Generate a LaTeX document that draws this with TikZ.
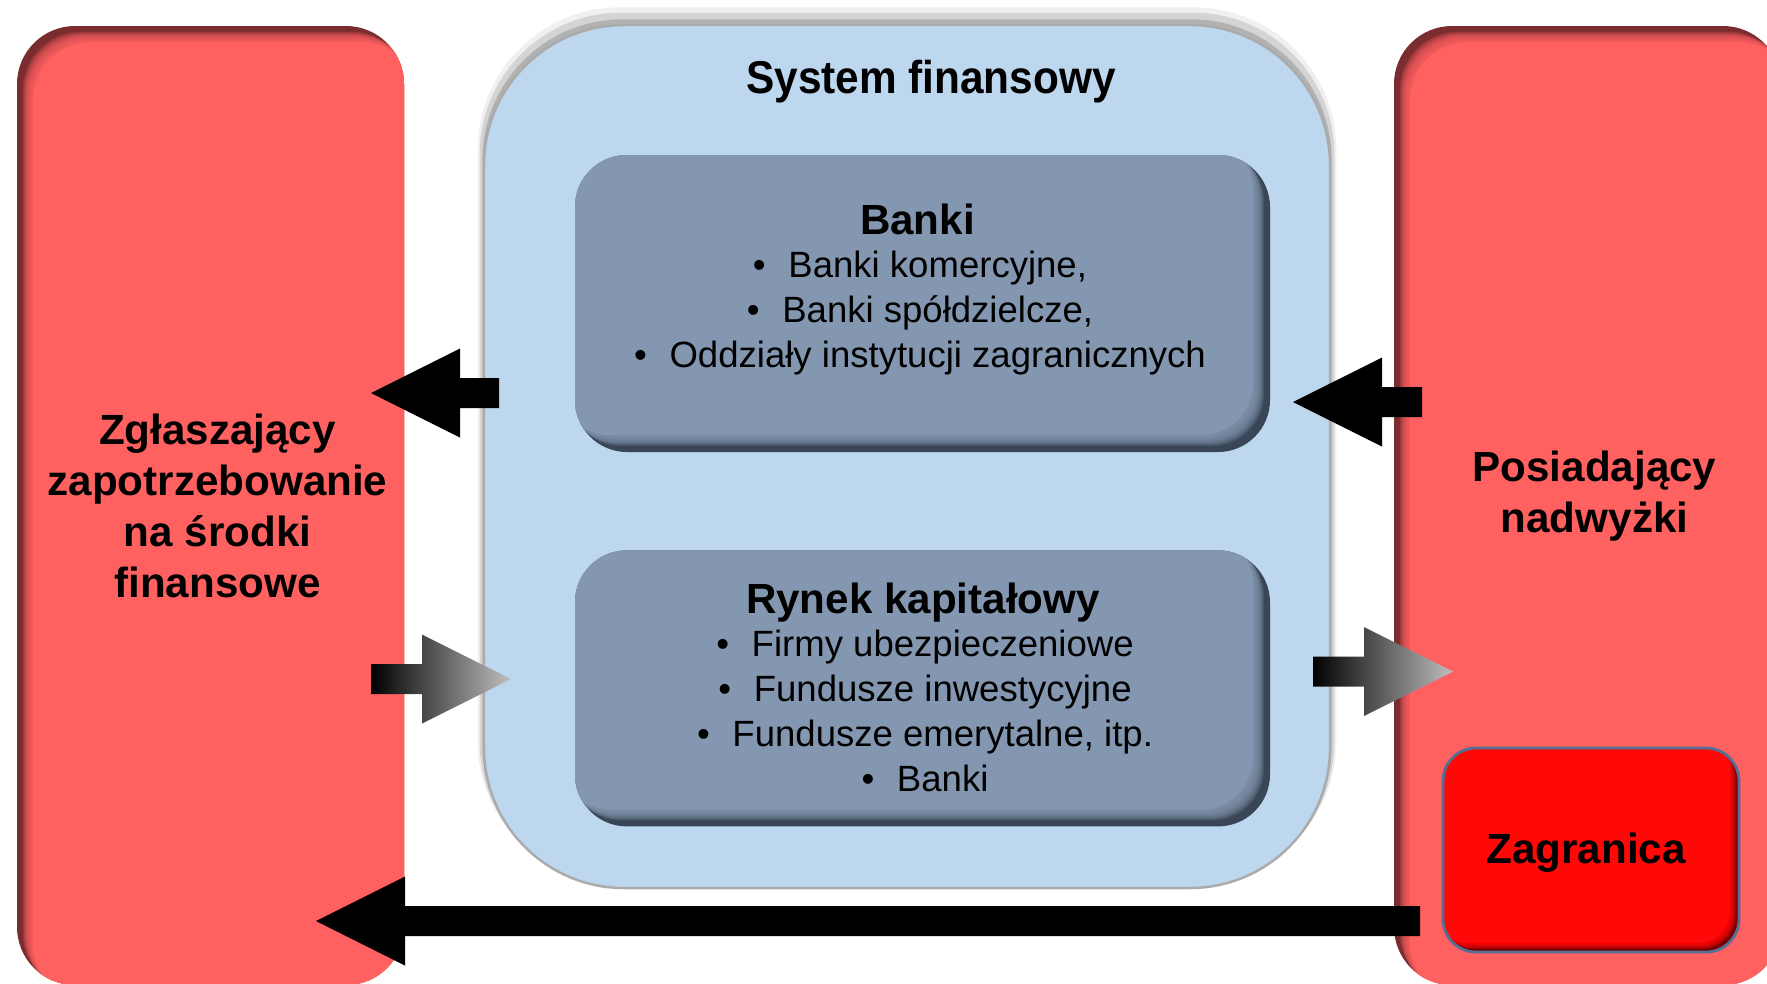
\documentclass[tikz,border=0pt]{standalone}
\usepackage{fontspec}
\setmainfont{Liberation Sans}
\usepackage{graphicx}
\usepackage{tikz}
\usetikzlibrary{positioning, calc, shadows}

\definecolor{boxred}{RGB}{255,97,97}
\definecolor{boxredshade}{RGB}{122,44,46}
\definecolor{sysblue}{RGB}{189,215,238}
\definecolor{slate}{RGB}{132,151,176}
\definecolor{slateshade}{RGB}{58,70,88}
\definecolor{zagred}{RGB}{255,8,8}
\definecolor{zagshade}{RGB}{118,0,0}
\definecolor{zagline}{RGB}{84,110,148}

% inner shadow: copies of the box moved by (#2,#3) times the depth #5
\newcommand{\innershade}[5]{%
  \foreach \f in {0.35,0.4,...,0.95}
    \fill[#1, opacity=0.17, rounded corners=#4]
      ([shift={(#2*\f*#5,#3*\f*#5)}]path picture bounding box.south west) rectangle
      ([shift={(#2*\f*#5,#3*\f*#5)}]path picture bounding box.north east);
  \fill[#1, rounded corners=#4]
      ([shift={(#2*#5,#3*#5)}]path picture bounding box.south west) rectangle
      ([shift={(#2*#5,#3*#5)}]path picture bounding box.north east);}

% block arrow from #2 (tail) to #3 (tip)
\newcommand{\blockarrow}[3][blackarrow]{%
  \path[#1] let \p1=(#2), \p2=(#3), \n1={(\x2-\x1)/abs(\x2-\x1)} in
    (\x1,\y1+0.15cm) -- (\x2-\n1*0.89cm,\y1+0.15cm) -- (\x2-\n1*0.89cm,\y1+0.445cm)
    -- (\x2,\y1) -- (\x2-\n1*0.89cm,\y1-0.445cm) -- (\x2-\n1*0.89cm,\y1-0.15cm)
    -- (\x1,\y1-0.15cm) -- cycle;}

\newcommand{\itm}{\textbullet\hspace{0.62em}}

\tikzstyle{redbox} = [rectangle, rounded corners=0.58cm, minimum width=3.87cm, minimum height=9.59cm, inner sep=0pt, fill=boxredshade, path picture={\innershade{boxred}{1}{-1}{0.58cm}{0.16}}]
\tikzstyle{sysbox} = [rectangle, rounded corners=1.4cm, minimum width=8.46cm, minimum height=8.63cm, inner sep=0pt, fill=sysblue, draw=black!33, line width=0.7pt, drop shadow={shadow xshift=0cm, shadow yshift=0.04cm, shadow scale=1.004, opacity=0.4, fill=black!50}, drop shadow={shadow xshift=0cm, shadow yshift=0.08cm, shadow scale=1.01, opacity=0.25, fill=black!50}, drop shadow={shadow xshift=0cm, shadow yshift=0.11cm, shadow scale=1.015, opacity=0.12, fill=black!50}]
\tikzstyle{instbox} = [rectangle, rounded corners=0.52cm, minimum width=6.95cm, inner sep=0pt, fill=slateshade, path picture={\innershade{slate}{-1}{1}{0.52cm}{0.17}}]
\tikzstyle{zagbox} = [rectangle, rounded corners=0.33cm, minimum width=2.96cm, minimum height=2.04cm, inner sep=0pt, fill=zagshade, draw=zagline, line width=0.8pt, path picture={\innershade{zagred}{-1}{1}{0.33cm}{0.09}}]
\tikzstyle{head} = [font=\fontsize{12}{14.5}\selectfont\bfseries, align=center, inner sep=0pt]
\tikzstyle{items} = [font=\fontsize{10.4}{12.8}\selectfont, align=center, inner sep=0pt]
\tikzstyle{blackarrow} = [fill=black]
\tikzstyle{greyarrow} = [left color=black, right color=black!25]

\begin{document}
\begin{tikzpicture}
	\useasboundingbox (0,0) rectangle (17.67,-9.83);
	\node (dem) [redbox] at (2.105,-5.055) {};
	\node (sur) [redbox] at (15.875,-5.055) {};
	\node (sys) [sysbox] at (9.07,-4.565) {};
	\node (bank) [instbox, minimum height=2.97cm] at (9.225,-3.035) {};
	\node (ryn) [instbox, minimum height=2.76cm, below=0.97cm of bank] {};
	\node (zag) [zagbox] at (15.91,-8.50) {};

	\node (sysT) [head, anchor=base, font=\fontsize{13.1}{15}\selectfont\bfseries] at (9.31,-0.93) {\scalebox{0.92}[1]{System finansowy}};
	\node (bankT) [head, anchor=base] at (9.175,-2.34) {Banki};
	\node (bankL) [items] at (9.20,-3.135) {\itm Banki komercyjne,\\\itm Banki spółdzielcze,\\\itm Oddziały instytucji zagranicznych};
	\node (rynT) [head, anchor=base] at (9.23,-6.135) {Rynek kapitałowy};
	\node (rynL) [items] at (9.25,-7.11) {\itm Firmy ubezpieczeniowe\\\itm Fundusze inwestycyjne\\\itm Fundusze emerytalne, itp.\\\itm Banki};
	\node (demT) [head] at (2.175,-5.06) {Zgłaszający\\zapotrzebowanie\\na środki\\finansowe};
	\node (surT) [head] at (15.945,-4.96) {Posiadający\\nadwyżki};
	\node (zagT) [head, anchor=base] at (15.86,-8.63) {Zagranica};

	\coordinate (a1s) at (4.99,-3.93);
	\coordinate (a1e) at (3.71,-3.93);
	\coordinate (a2s) at (14.22,-4.02);
	\coordinate (a2e) at (12.93,-4.02);
	\coordinate (a3s) at (3.71,-6.79);
	\coordinate (a3e) at (5.11,-6.79);
	\coordinate (a4s) at (13.13,-6.715);
	\coordinate (a4e) at (14.53,-6.715);
	\coordinate (a5s) at (14.20,-9.21);
	\coordinate (a5e) at (3.16,-9.21);
	\blockarrow{a1s}{a1e}
	\blockarrow{a2s}{a2e}
	\blockarrow[greyarrow]{a3s}{a3e}
	\blockarrow[greyarrow]{a4s}{a4e}
	\blockarrow{a5s}{a5e}
\end{tikzpicture}
\end{document}
